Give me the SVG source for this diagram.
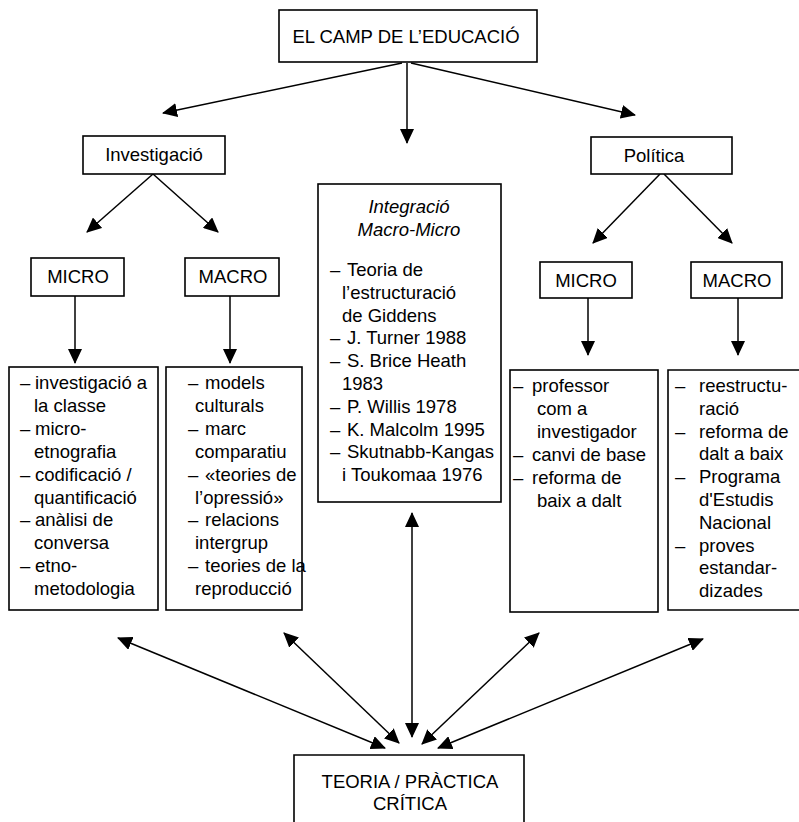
<svg xmlns="http://www.w3.org/2000/svg" width="799" height="822" viewBox="0 0 799 822">
<defs>
<marker id="ah" viewBox="0 0 15 14" refX="14" refY="7" markerWidth="15" markerHeight="14" markerUnits="userSpaceOnUse" orient="auto-start-reverse">
<path d="M0,0 L15,7 L0,14 z" fill="#000"/>
</marker>
<style>
text{font-family:"Liberation Sans",Arial,Helvetica,sans-serif;font-size:18.5px;fill:#000}
.c{text-anchor:middle}
.i{font-style:italic}
.box{fill:#fff;stroke:#000;stroke-width:1.6}
.ln{fill:none;stroke:#000;stroke-width:1.5}
.one{marker-end:url(#ah)}
.two{marker-start:url(#ah);marker-end:url(#ah)}
</style>
</defs>
<rect width="799" height="822" fill="#fff"/>

<g id="connectors">
<line class="ln one" x1="402" y1="63" x2="163" y2="113"/>
<line class="ln one" x1="407" y1="63" x2="407" y2="143"/>
<line class="ln one" x1="411" y1="63" x2="635" y2="115"/>
<line class="ln one" x1="153" y1="174" x2="87" y2="232"/>
<line class="ln one" x1="153" y1="174" x2="218" y2="232"/>
<line class="ln one" x1="660" y1="174" x2="593" y2="243"/>
<line class="ln one" x1="664" y1="174" x2="732" y2="243"/>
<line class="ln one" x1="75" y1="296" x2="75" y2="363"/>
<line class="ln one" x1="230" y1="296" x2="230" y2="363"/>
<line class="ln one" x1="588" y1="298" x2="588" y2="355"/>
<line class="ln one" x1="738" y1="298" x2="738" y2="355"/>
<line class="ln two" x1="412" y1="513" x2="412" y2="737"/>
<line class="ln two" x1="118" y1="638" x2="385" y2="748"/>
<line class="ln two" x1="284" y1="633" x2="399" y2="743"/>
<line class="ln two" x1="539" y1="633" x2="422" y2="744"/>
<line class="ln two" x1="703" y1="639" x2="438" y2="748"/>
</g>

<g id="camp">
<rect class="box" x="279" y="10" width="258" height="52"/>
<text class="c" x="406" y="43">EL CAMP DE L’EDUCACIÓ</text>
</g>

<g id="investigacio">
<rect class="box" x="83" y="136" width="142" height="38"/>
<text class="c" x="154" y="161">Investigació</text>
</g>

<g id="politica">
<rect class="box" x="591" y="137" width="141" height="37"/>
<text class="c" x="654" y="162">Política</text>
</g>

<g id="micro-inv">
<rect class="box" x="31" y="258" width="93" height="38"/>
<text class="c" x="78" y="283">MICRO</text>
</g>

<g id="macro-inv">
<rect class="box" x="185" y="258" width="94" height="38"/>
<text class="c" x="233" y="283">MACRO</text>
</g>

<g id="micro-pol">
<rect class="box" x="540" y="262" width="92" height="36"/>
<text class="c" x="586" y="287">MICRO</text>
</g>

<g id="macro-pol">
<rect class="box" x="691" y="262" width="91" height="36"/>
<text class="c" x="737" y="287">MACRO</text>
</g>

<g id="integracio">
<rect class="box" x="318" y="184" width="183" height="318"/>
<text class="c i" x="409" y="213">Integració</text>
<text class="c i" x="409" y="236">Macro-Micro</text>
<text><tspan x="330" y="276">–</tspan><tspan x="347" y="276">Teoria de</tspan></text>
<text x="342" y="298.8">l’estructuració</text>
<text x="342" y="321.6">de Giddens</text>
<text><tspan x="330" y="344.4">–</tspan><tspan x="347" y="344.4">J. Turner 1988</tspan></text>
<text><tspan x="330" y="367.2">–</tspan><tspan x="347" y="367.2">S. Brice Heath</tspan></text>
<text x="342" y="390">1983</text>
<text><tspan x="330" y="412.8">–</tspan><tspan x="347" y="412.8">P. Willis 1978</tspan></text>
<text><tspan x="330" y="435.6">–</tspan><tspan x="347" y="435.6">K. Malcolm 1995</tspan></text>
<text><tspan x="330" y="458.4">–</tspan><tspan x="347" y="458.4">Skutnabb-Kangas</tspan></text>
<text x="342" y="481.2">i Toukomaa 1976</text>
</g>

<g id="llista-micro-inv">
<rect class="box" x="9" y="367" width="149" height="243"/>
<text><tspan x="20" y="389">–</tspan><tspan x="35" y="389">investigació a</tspan></text>
<text x="34" y="411.9">la classe</text>
<text><tspan x="20" y="434.8">–</tspan><tspan x="35" y="434.8">micro-</tspan></text>
<text x="34" y="457.7">etnografia</text>
<text><tspan x="20" y="480.6">–</tspan><tspan x="35" y="480.6">codificació /</tspan></text>
<text x="34" y="503.5">quantificació</text>
<text><tspan x="20" y="526.4">–</tspan><tspan x="35" y="526.4">anàlisi de</tspan></text>
<text x="34" y="549.3">conversa</text>
<text><tspan x="20" y="572.2">–</tspan><tspan x="35" y="572.2">etno-</tspan></text>
<text x="34" y="595.1">metodologia</text>
</g>

<g id="llista-macro-inv">
<rect class="box" x="166" y="367" width="136" height="243"/>
<text><tspan x="188" y="389">–</tspan><tspan x="205" y="389">models</tspan></text>
<text x="195" y="411.9">culturals</text>
<text><tspan x="188" y="434.8">–</tspan><tspan x="205" y="434.8">marc</tspan></text>
<text x="195" y="457.7">comparatiu</text>
<text><tspan x="188" y="480.6">–</tspan><tspan x="205" y="480.6">«teories de</tspan></text>
<text x="195" y="503.5">l’opressió»</text>
<text><tspan x="188" y="526.4">–</tspan><tspan x="205" y="526.4">relacions</tspan></text>
<text x="195" y="549.3">intergrup</text>
<text><tspan x="188" y="572.2">–</tspan><tspan x="205" y="572.2">teories de la</tspan></text>
<text x="195" y="595.1">reproducció</text>
</g>

<g id="llista-micro-pol">
<rect class="box" x="510" y="370" width="148" height="242"/>
<text><tspan x="513" y="392">–</tspan><tspan x="532" y="392">professor</tspan></text>
<text x="537" y="415">com a</text>
<text x="537" y="438">investigador</text>
<text><tspan x="513" y="461">–</tspan><tspan x="532" y="461">canvi de base</tspan></text>
<text><tspan x="513" y="484">–</tspan><tspan x="532" y="484">reforma de</tspan></text>
<text x="537" y="507">baix a dalt</text>
</g>

<g id="llista-macro-pol">
<path class="box" d="M801,370 H668 V610 H801"/>
<text><tspan x="675" y="392">–</tspan><tspan x="699" y="392">reestructu-</tspan></text>
<text x="699" y="414.8">ració</text>
<text><tspan x="675" y="437.6">–</tspan><tspan x="699" y="437.6">reforma de</tspan></text>
<text x="699" y="460.4">dalt a baix</text>
<text><tspan x="675" y="483.2">–</tspan><tspan x="699" y="483.2">Programa</tspan></text>
<text x="699" y="506">d'Estudis</text>
<text x="699" y="528.8">Nacional</text>
<text><tspan x="675" y="551.6">–</tspan><tspan x="699" y="551.6">proves</tspan></text>
<text x="699" y="574.4">estandar-</text>
<text x="699" y="597.2">dizades</text>
</g>

<g id="teoria-practica">
<path class="box" d="M294,824 V755 H524 V824"/>
<text class="c" x="410" y="788">TEORIA / PRÀCTICA</text>
<text class="c" x="410" y="810">CRÍTICA</text>
</g>
</svg>
